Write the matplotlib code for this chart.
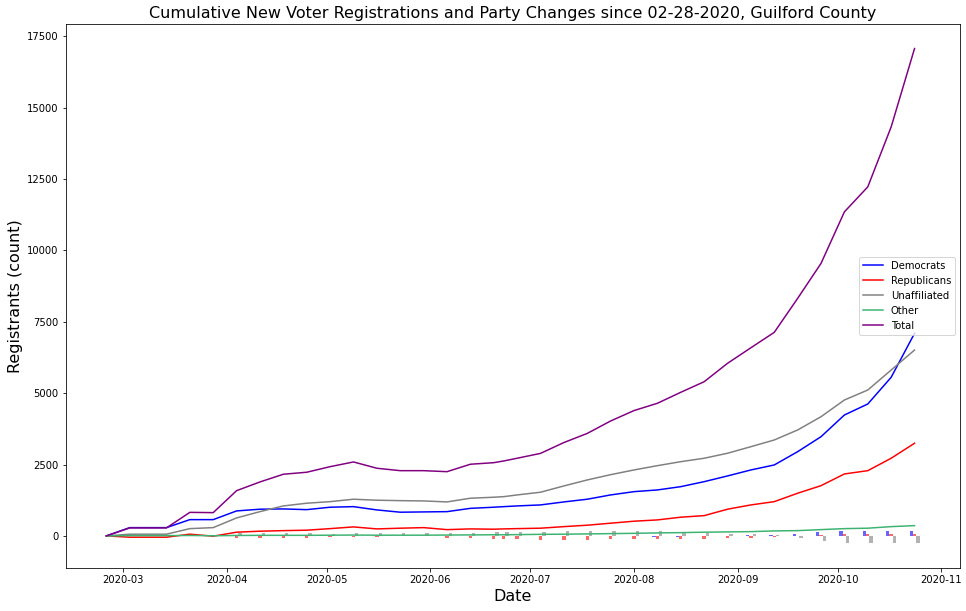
import numpy as np
import pandas as pd
from matplotlib import pyplot as plt

dates = pd.to_datetime([
    "2020-02-25", "2020-03-03", "2020-03-14", "2020-03-21", "2020-03-28",
    "2020-04-04", "2020-04-11", "2020-04-18", "2020-04-25", "2020-05-02",
    "2020-05-09", "2020-05-16", "2020-05-23", "2020-05-30", "2020-06-06",
    "2020-06-13", "2020-06-20", "2020-06-23", "2020-06-27", "2020-07-04",
    "2020-07-11", "2020-07-18", "2020-07-25", "2020-08-01", "2020-08-08",
    "2020-08-15", "2020-08-22", "2020-08-29", "2020-09-05", "2020-09-12",
    "2020-09-19", "2020-09-26", "2020-10-03", "2020-10-10", "2020-10-17",
    "2020-10-24",
])

democrats = [0, 290, 290, 570, 570, 875, 935, 945, 920, 1005,
             1025, 910, 830, 840, 850, 965, 1005, 1025, 1050, 1085,
             1190, 1285, 1435, 1550, 1610, 1725, 1900, 2100, 2310, 2485,
             2950, 3475, 4235, 4620, 5555, 7095]
republicans = [0, -45, -45, 60, -10, 130, 165, 185, 200, 255,
               315, 245, 270, 290, 220, 245, 235, 245, 255, 270,
               325, 375, 445, 515, 560, 655, 710, 935, 1085, 1200,
               1495, 1760, 2170, 2285, 2720, 3245]
unaffiliated = [0, 60, 60, 255, 290, 630, 850, 1050, 1145, 1200,
                1285, 1250, 1235, 1225, 1190, 1320, 1355, 1375, 1435, 1530,
                1750, 1960, 2145, 2310, 2460, 2600, 2720, 2895, 3125, 3360,
                3710, 4175, 4760, 5110, 5810, 6510]
other = [0, 10, 10, 15, 5, 15, 20, 20, 20, 25,
         30, 25, 25, 25, 30, 35, 40, 40, 45, 55,
         60, 70, 80, 90, 105, 115, 130, 140, 150, 175,
         185, 220, 255, 270, 325, 360]
total = [0, 280, 280, 825, 815, 1585, 1890, 2160, 2230, 2425,
         2590, 2370, 2285, 2285, 2250, 2510, 2565, 2625, 2720, 2890,
         3270, 3590, 4025, 4390, 4645, 5030, 5400, 6045, 6590, 7130,
         8320, 9545, 11350, 12225, 14325, 17070]

# party changes, reported from 2020-04-04 on
change_dates = dates[5:]
dem_change = [0, 0, 0, 0, 0,
              0, 0, 0, 0, 0, 0, 0, 0, 0, 0,
              0, 0, 0, 0, -23, -23, 0, 0, 25, 35,
              70, 140, 163, 163, 163, 163]
rep_change = [-70, -70, -70, -70, -25,
              -35, -35, -20, -20, -80, -80, -117, -117, -117, -150,
              -150, -150, -117, -117, -117, -117, -105, -80, -70, -25,
              0, 35, 70, 70, 70, 70]
una_change = [93, 105, 93, 93, 58,
              93, 93, 93, 93, 93, 93, 128, 128, 140, 140,
              163, 163, 163, 163, 163, 105, 105, 70, 70, 35,
              -70, -187, -245, -245, -245, -245]

fig = plt.figure(figsize=(966/72, 611/72), dpi=72)
ax = fig.add_subplot(111)
fig.subplots_adjust(left=0.068, right=0.994, top=0.961, bottom=0.071)

day = pd.Timedelta(days=1)
ax.bar(change_dates - day, dem_change, width=1, color="blue", alpha=0.6)
ax.bar(change_dates, rep_change, width=1, color="red", alpha=0.6)
ax.bar(change_dates + day, una_change, width=1, color="gray", alpha=0.6)

ax.plot(dates, democrats, color="blue", label="Democrats")
ax.plot(dates, republicans, color="red", label="Republicans")
ax.plot(dates, unaffiliated, color="gray", label="Unaffiliated")
ax.plot(dates, other, color="mediumseagreen", label="Other")
ax.plot(dates, total, color="purple", label="Total")

ax.set_title("Cumulative New Voter Registrations and Party Changes since 02-28-2020, Guilford County", fontsize=16)
ax.set_xlabel("Date", fontsize=16)
ax.set_ylabel("Registrants (count)", fontsize=16)
ax.legend(loc="center right")

plt.savefig("out.png")
